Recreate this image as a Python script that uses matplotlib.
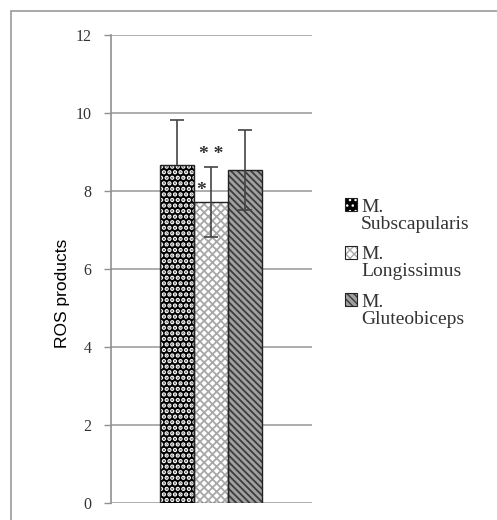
import matplotlib
matplotlib.use('Agg')
import matplotlib.pyplot as plt
from matplotlib.patches import Patch, Rectangle
from matplotlib.legend_handler import HandlerPatch

# ==================== 数据 ====================
muscles = ['M.\nSubscapularis', 'M.\nLongissimus', 'M.\nGluteobiceps']
ros_mean = [8.67, 7.72, 8.54]
ros_err = [1.15, 0.90, 1.03]
y_ticks = [0, 2, 4, 6, 8, 10, 12]

# 样式
face_colors = ['black', 'white', '#a0a0a0']
hatch_colors = ['white', '#a8a8a8', '#3c3c3c']
hatches = ['...', 'xxxx', '\\\\\\\\\\']
hatch_lw = [2.2, 1.3, 1.3]


class TopHandler(HandlerPatch):
    """图例色块与第一行文字对齐"""
    def create_artists(self, legend, orig_handle, xdescent, ydescent,
                       width, height, fontsize, trans):
        shift = 0.55 * fontsize
        p = Rectangle((-xdescent, -ydescent + shift), width, height,
                      facecolor=orig_handle.get_facecolor(),
                      edgecolor=orig_handle.get_edgecolor(),
                      hatch=orig_handle.get_hatch(), linewidth=0,
                      transform=trans)
        frame = Rectangle((-xdescent, -ydescent + shift), width, height,
                          fill=False, edgecolor='#222222', linewidth=0.8,
                          transform=trans)
        return [p, frame]


fig = plt.figure(figsize=(4.97, 5.2), dpi=100)
# 外框
fig.patches.append(Rectangle((11 / 497, -0.1), 1.2, 1 - 11 / 520 + 0.1,
                             transform=fig.transFigure, fill=False,
                             edgecolor='#9a9a9a', linewidth=1.2))

ax = fig.add_axes([111 / 497, 17 / 520, 201 / 497, 468 / 520])

x = list(range(len(muscles)))
for i in x:
    with plt.rc_context({'hatch.linewidth': hatch_lw[i]}):
        ax.bar(i, ros_mean[i], width=1.0, color=face_colors[i],
               edgecolor=hatch_colors[i], hatch=hatches[i], linewidth=0,
               zorder=2)
ax.bar(x, ros_mean, width=1.0, fill=False, edgecolor='#222222',
       linewidth=1.0, zorder=3)
for i in x:
    ax.errorbar(i, ros_mean[i], yerr=ros_err[i], fmt='none', ecolor='#444444',
                elinewidth=1.2, capsize=5, capthick=1.2,
                zorder=1.5 if i == 0 else 4)

# 显著性标记
ax.text(1.0, ros_mean[1] + ros_err[1] + 0.1, '* *', ha='center', va='bottom',
        fontsize=14, fontweight='bold', family='Liberation Serif',
        color='#333333')
ax.text(0.72, ros_mean[1] + 0.08, '*', ha='center', va='bottom',
        fontsize=14, fontweight='bold', family='Liberation Serif',
        color='#333333')

ax.set_xlim(-1.94, 3.97)
ax.set_ylim(0, 12)
ax.set_yticks(y_ticks)
ax.set_yticklabels([str(t) for t in y_ticks], family='Liberation Serif',
                   fontsize=11.5, color='#333333')
ax.set_xticks([])
ax.yaxis.grid(True, color='#a0a0a0', linewidth=1.2, zorder=0)
ax.set_axisbelow(True)
ax.tick_params(axis='y', length=5, width=1, color='#909090', pad=9)
for s in ['top', 'right', 'bottom']:
    ax.spines[s].set_visible(False)
ax.spines['left'].set_color('#909090')
ax.spines['left'].set_linewidth(1.2)
ax.set_ylabel('ROS products', family='Liberation Sans', fontsize=12.5)
ax.yaxis.set_label_coords(-0.205, 0.447)

handles = [Patch(facecolor=face_colors[i], edgecolor=hatch_colors[i],
                 hatch=hatches[i]) for i in x]
leg = fig.legend(handles, muscles, loc='upper left',
                 bbox_to_anchor=(335 / 497, 1 - 189 / 520), frameon=False,
                 prop={'family': 'Liberation Serif', 'size': 14},
                 handlelength=0.65, handleheight=0.65, handletextpad=0.2,
                 labelspacing=0.7, borderpad=0,
                 handler_map={Patch: TopHandler()})
for t in leg.get_texts():
    t.set_color('#333333')
    t.set_linespacing(1.0)

fig.savefig('out.png', dpi=100)
